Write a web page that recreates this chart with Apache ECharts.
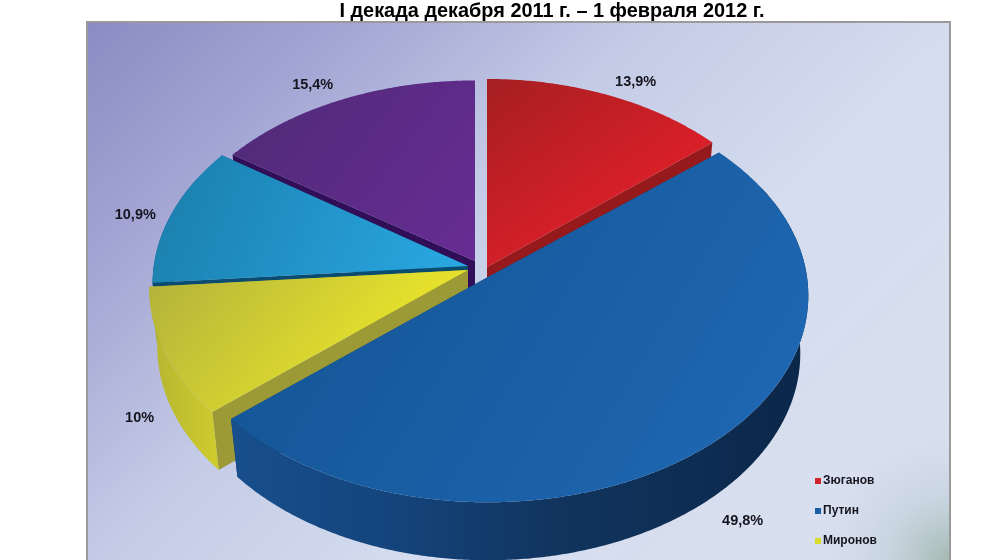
<!DOCTYPE html>
<html><head><meta charset="utf-8">
<style>html,body{margin:0;padding:0;background:#fff}#c{width:1000px;height:560px}</style>
<script src="https://cdn.jsdelivr.net/npm/echarts@6/dist/echarts.min.js"></script>
</head><body><div id="c"></div>
<script>
const titleText = 'I декада декабря 2011 г. – 1 февраля 2012 г.';
const sliceNames = ['Зюганов', 'Путин', 'Миронов', 'Сегмент 4', 'Сегмент 5'];
const sliceValues = [13.9, 49.8, 10, 10.9, 15.4];
const sliceLabels = ['13,9%', '49,8%', '10%', '10,9%', '15,4%'];
const legendNames = ['Зюганов', 'Путин', 'Миронов'];

// styling / projection settings
const RX = 319, RY = 205, K = 0.09, DEPTH = 58, SHRINK = 0.975;
const apex = [[487, 267], [488, 277], [468, 270], [468, 266], [475, 261]];
const sliceScale = [[0.975, 1], [1, 1], [0.995, 1], [0.985, 1], [0.97, 0.96]];
const labelOffset = [[27, -13], [33, 76], [-25, 66], [-36, 1], [-29, -15]];
const drawOrder = [4, 3, 0, 2, 1];
const legendColor = ['#d0232b', '#1a5fa6', '#dcdc2a', '#2a9fd8', '#5f2d8c'];
const topFill = [
  ['#a51f22', '#e81f2a'], ['#125391', '#2069b6'], ['#b2b13c', '#e4e02c'],
  ['#1a7dab', '#2aa9e4'], ['#4e2a76', '#682c94']
];
const topDir = [[0.6, 1], [1, 1], [0.55, 1], [1, 1], [1, 1]];
const radialFill = ['#96191c', '#0f3a6f', '#9b9a36', '#0a4c70', '#300f58'];
const wallStops = [
  [[0, '#8e1518'], [1, '#8e1518']],
  [[0, '#174f8c'], [0.3, '#14437a'], [0.55, '#11355f'], [1, '#0b2749']],
  [[0, '#b5b431'], [1, '#cfcc2e']],
  [[0, '#0a4c70'], [1, '#0a4c70']],
  [[0, '#300f58'], [1, '#300f58']]
];

const total = sliceValues.reduce((a, b) => a + b, 0);
const startAngles = sliceValues.map((v, i) =>
  sliceValues.slice(0, i).reduce((a, b) => a + b, 0) / total * 2 * Math.PI);

function project(i, t) {
  const s = 1 / (1 + K * Math.cos(t));
  return [apex[i][0] + RX * sliceScale[i][0] * Math.sin(t) * s,
          apex[i][1] - RY * sliceScale[i][1] * Math.cos(t) * s];
}
function lower(i, p) {
  return [apex[i][0] + (p[0] - apex[i][0]) * SHRINK, p[1] + DEPTH];
}
function lin(stops, x2, y2) {
  return new echarts.graphic.LinearGradient(0, 0, x2, y2,
    stops.map(s => ({ offset: s[0], color: s[1] })));
}
function renderSlice(i) {
  return function () {
    const a0 = startAngles[i], a1 = a0 + sliceValues[i] / total * 2 * Math.PI;
    const n = Math.max(8, Math.round((a1 - a0) * 120));
    const arc = [];
    for (let k = 0; k <= n; k++) arc.push(project(i, a0 + (a1 - a0) * k / n));
    const c = apex[i], cLow = [c[0], c[1] + DEPTH];
    const low = arc.map(p => lower(i, p));
    const quad = (a, b, d, e) => ({ type: 'polygon', shape: { points: [a, b, d, e] },
      style: { fill: radialFill[i] } });
    const front = [];
    for (let k = 0; k <= n; k++) {
      const t = a0 + (a1 - a0) * k / n;
      if (Math.cos(t) < 0.45) front.push(k);
    }
    const children = [
      quad(c, arc[0], low[0], cLow),
      quad(c, arc[n], low[n], cLow)
    ];
    if (front.length > 1) {
      const up = front.map(k => arc[k]), dn = front.map(k => low[k]).reverse();
      children.push({ type: 'polygon', shape: { points: up.concat(dn) },
        style: { fill: lin(wallStops[i], 1, 0) } });
    }
    children.push({ type: 'polygon', shape: { points: [c].concat(arc) },
      style: { fill: lin(topFill[i].map((col, j) => [j, col]), topDir[i][0], topDir[i][1]) } });
    const mid = project(i, (a0 + a1) / 2);
    children.push({ type: 'text', style: {
      text: sliceLabels[i],
      x: mid[0] + labelOffset[i][0], y: mid[1] + labelOffset[i][1],
      fill: '#15151f', font: 'bold 14.5px "Liberation Sans", Arial, sans-serif',
      align: 'center', verticalAlign: 'middle' } });
    return { type: 'group', children };
  };
}

const chart = echarts.init(document.getElementById('c'), null, { renderer: 'canvas' });
chart.setOption({
  animation: false,
  backgroundColor: '#fff',
  title: {
    text: titleText, left: 547, top: -3, textAlign: 'center',
    textStyle: { fontFamily: '"Liberation Sans", Arial, sans-serif', fontWeight: 'bold', fontSize: 19.9, color: '#000' }
  },
  legend: {
    data: legendNames, orient: 'vertical', left: 810, top: 470, itemWidth: 6, itemHeight: 6,
    itemGap: 18, icon: 'rect',
    textStyle: { fontFamily: '"Liberation Sans", Arial, sans-serif', fontWeight: 'bold', fontSize: 12, color: '#15151f', padding: [0, 0, 0, -3] }
  },
  graphic: [
    { type: 'rect', z: 0, shape: { x: 87, y: 22, width: 863, height: 540 },
      style: { stroke: '#9a9a9a', lineWidth: 2,
        fill: new echarts.graphic.LinearGradient(0, 0, 0.7, 1.15, [
          { offset: 0, color: '#8a8bc3' }, { offset: 0.22, color: '#a4a7d4' },
          { offset: 0.45, color: '#c4cbe6' }, { offset: 0.7, color: '#d4dcef' }, { offset: 1, color: '#d8dfee' }]) } },
    { type: 'rect', z: 0, shape: { x: 800, y: 420, width: 149, height: 140 },
      style: { fill: new echarts.graphic.RadialGradient(1, 1, 1, [
        { offset: 0, color: 'rgba(160,180,170,0.9)' }, { offset: 0.45, color: 'rgba(185,202,210,0.5)' },
        { offset: 1, color: 'rgba(214,220,239,0)' }]) } }
  ],
  series: drawOrder.map(i => ({
    type: 'custom', name: sliceNames[i], coordinateSystem: 'none', silent: true,
    itemStyle: { color: legendColor[i] }, data: [[sliceValues[i]]], renderItem: renderSlice(i)
  }))
});
</script></body></html>
